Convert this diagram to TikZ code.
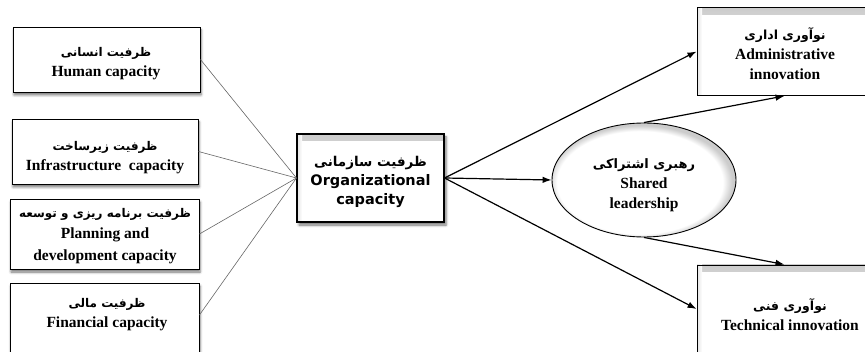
\documentclass[tikz,border=0pt]{standalone}
\usepackage{fontspec}
\setmainfont{Liberation Serif}
\newfontfamily\fafont[Script=Arabic]{DejaVu Sans}
\newfontfamily\tahfont{DejaVu Sans}
\TeXXeTstate=1
\usetikzlibrary{arrows.meta,shadows.blur,shapes.geometric}

% soft grey rim inside the ellipse, a little heavier on the upper right
\pgfdeclareradialshading{rimshade}{\pgfpoint{-2bp}{-2bp}}{color(0bp)=(white); color(22.5bp)=(white); color(25bp)=(gray!40); color(50bp)=(gray!40)}

% Persian line
\newcommand\faline[2][12]{{\fafont\bfseries\fontsize{#1}{20}\selectfont\beginR #2\endR}}

\tikzset{
  x=1pt, y=-1pt,
  latin/.style={font=\bfseries\fontsize{15.5}{20}\selectfont},
  txt/.style={latin, align=center, inner sep=0pt},
  innershade/.style={path picture={
      \shade[top color=gray!40, bottom color=white]
        (path picture bounding box.north west) rectangle ([yshift=-7pt]path picture bounding box.north east);
      \shade[left color=gray!22, right color=white]
        (path picture bounding box.north west) rectangle ([xshift=5pt]path picture bounding box.south west);}},
  lbox/.style={draw=black, line width=0.9pt, fill=white, inner sep=0pt,
    blur shadow={shadow xshift=1pt, shadow yshift=-3pt, shadow blur radius=2.5pt, shadow opacity=55}},
  rbox/.style={draw=black, line width=0.9pt, fill=white, inner sep=0pt, innershade},
  cbox/.style={draw=black, line width=1.1pt, fill=white, inner sep=0pt, innershade,
    blur shadow={shadow xshift=2pt, shadow yshift=-3pt, shadow blur radius=2.5pt, shadow opacity=55}},
  ctxt/.style={align=center, inner sep=0pt, font=\tahfont\bfseries\fontsize{14.5}{19}\selectfont},
  feeder/.style={draw=gray!80!black, line width=0.6pt},
  link/.style={draw=black, line width=1.2pt, -{Latex[length=9pt,width=6.5pt]}},
}

\begin{document}
\begin{tikzpicture}
\useasboundingbox (0,0) rectangle (865,352);

% capacity dimensions
\node[lbox, minimum width=187pt, minimum height=65pt] (hum) at (106.5,59.5) {};
\node[txt] (humt) at (106,63.5) {\faline{ظرفیت انسانی}\\Human capacity};
\node[lbox, minimum width=186pt, minimum height=65pt] (inf) at (105,151.5) {};
\node[txt] (inft) at (105,158) {\faline{ظرفیت زیرساخت}\\Infrastructure\ \ capacity};
\node[lbox, minimum width=189pt, minimum height=70pt] (pla) at (104.5,234) {};
\node[txt, font=\bfseries\fontsize{15.5}{21.5}\selectfont] (plat) at (105,236)
  {\faline{ظرفیت برنامه ریزی و توسعه}\\Planning and\\development capacity};
\node[lbox, minimum width=189pt, minimum height=76pt] (fin) at (104.5,321) {};
\node[txt] (fint) at (107,315) {\faline{ظرفیت مالی}\\Financial capacity};

% organizational capacity
\node[cbox, minimum width=147pt, minimum height=88pt] (org) at (370.5,178) {};
\node[ctxt] (orgt) at (370.5,182)
  {\faline[13.5]{ظرفیت سازمانی}\\Organizational\\capacity};

% shared leadership
\node[ellipse, draw=black, line width=0.9pt, shading=rimshade, inner sep=0pt,
      minimum width=184pt, minimum height=114pt] (lead) at (644,180) {};
\node[txt] (leadt) at (644,185) {\faline[13]{رهبری اشتراکی}\\Shared\\leadership};

% innovation outcomes
\node[rbox, minimum width=175pt, minimum height=88pt] (adm) at (784.5,51.5) {};
\node[txt] (admt) at (785,54) {\faline[12.5]{نوآوری اداری}\\Administrative\\innovation};
\node[rbox, minimum width=175pt, minimum height=88pt] (tec) at (784.5,309) {};
\node[txt] (tect) at (790,315) {\faline[12.5]{نوآوری فنی}\\Technical innovation};

% feeders into organizational capacity
\draw[feeder] (hum.east) -- (org.west);
\draw[feeder] (inf.east) -- (org.west);
\draw[feeder] (pla.east) -- (org.west);
\draw[feeder] (fin.east |- fint.center) -- (org.west);

% causal paths
\draw[link] (org.east) -- (adm.west);
\draw[link] (org.east) -- (lead.west);
\draw[link] (org.east) -- (tec.west);
\draw[link] (lead.north) -- (adm.south);
\draw[link] (lead.south) -- (tec.north);
\end{tikzpicture}
\end{document}
